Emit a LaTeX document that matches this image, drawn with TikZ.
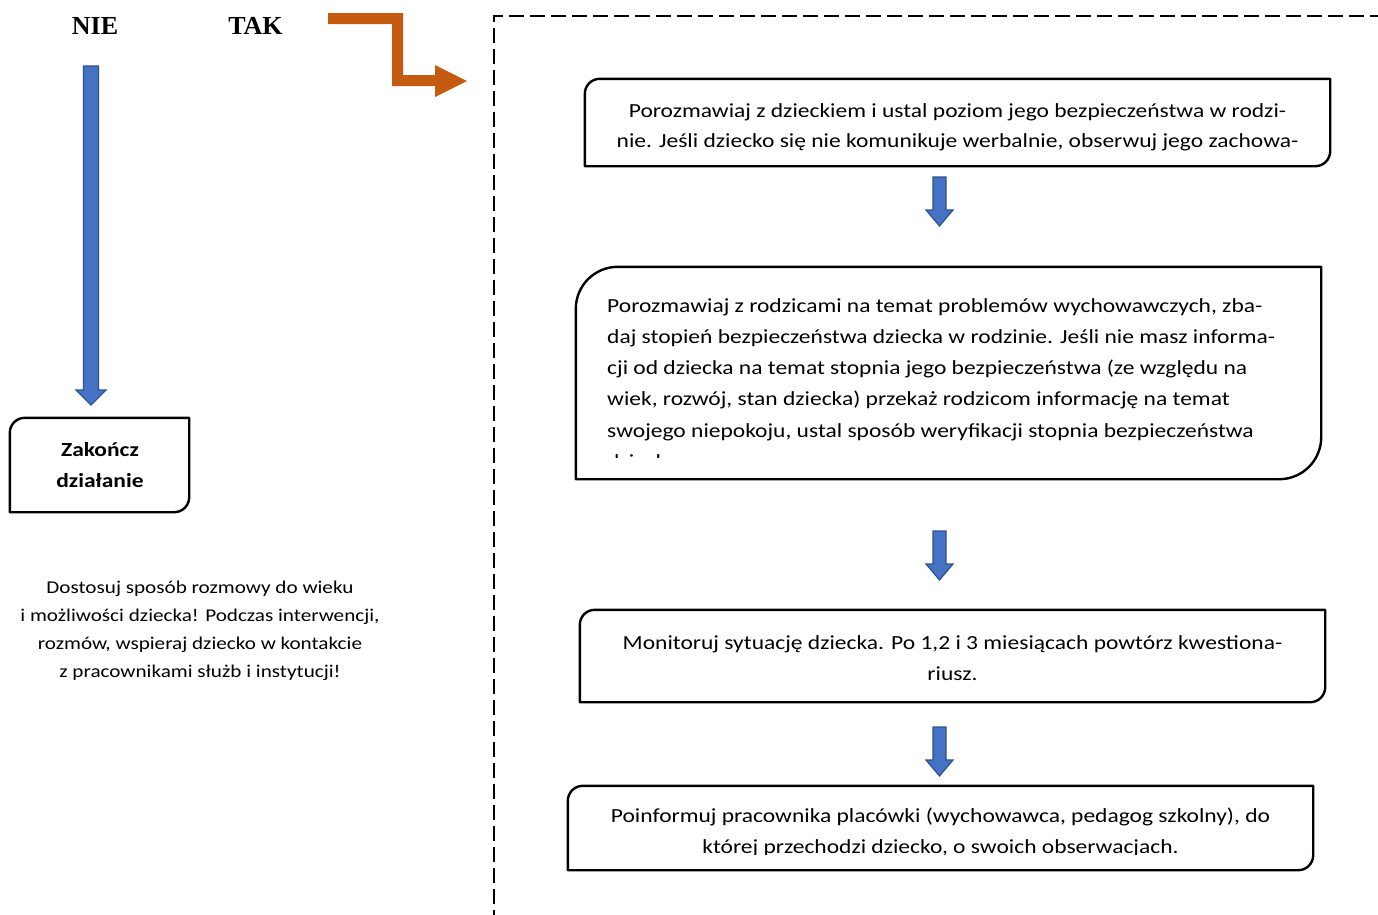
\documentclass[tikz,border=0pt]{standalone}
\usepackage{fontspec}
\setmainfont{Carlito}[FakeStretch=1.175]
\newfontfamily\headserif{Liberation Serif}
\usetikzlibrary{calc}
\definecolor{orangeA}{HTML}{C55A11}
\definecolor{blueA}{HTML}{4472C4}
\definecolor{blueB}{HTML}{2F528F}
\tikzset{
  boxline/.style={draw=black, line width=2.4pt, line join=round},
  frameline/.style={draw=black, line width=1.8pt, dash pattern=on 15pt off 6pt},
  blockarr/.style={fill=blueA, draw=blueB, line width=1.2pt, line join=miter},
  bodytext/.style={inner sep=0pt, font=\fontsize{20}{30}\selectfont},
  notetext/.style={inner sep=0pt, font=\fontsize{18}{28}\selectfont},
  headtext/.style={inner sep=0pt, font=\headserif\bfseries\fontsize{26}{30}\selectfont},
}
% #1 name, #2 cx, #3 cy, #4 width, #5 height, #6 radius
\newcommand{\rbox}[6]{%
  \node[inner sep=0pt, minimum width=#4pt, minimum height=#5pt] (#1) at (#2,#3) {};
  \draw[boxline] (#1.south west) -- ([yshift=-#6pt]#1.north west)
     arc[start angle=180, end angle=90, radius=#6pt] -- (#1.north east)
     -- ([yshift=#6pt]#1.south east)
     arc[start angle=0, end angle=-90, radius=#6pt] -- cycle;}
% #1 start coord, #2 tip coord, #3 half shaft, #4 half head, #5 head length
\newcommand{\blockarrow}[5]{%
  \filldraw[blockarr] let \p1=(#1), \p2=(#2) in
    (\x1-#3pt,\y1) -- (\x1+#3pt,\y1) -- (\x1+#3pt,\y2+#5pt) -- (\x1+#4pt,\y2+#5pt)
    -- (\x2,\y2) -- (\x1-#4pt,\y2+#5pt) -- (\x1-#3pt,\y2+#5pt) -- cycle;}
\begin{document}
\begin{tikzpicture}[x=1pt, y=-1pt]
\useasboundingbox (0,0) rectangle (1378,914);

% headings
\node[headtext, anchor=base] (nie) at (95,34) {NIE};
\node[headtext, anchor=base] (tak) at (255.5,34) {TAK};

% orange bent arrow
\fill[orangeA] (328,13) -- (403,13) -- (403,75) -- (435,75) -- (435,65) -- (467,81)
  -- (435,97) -- (435,86) -- (392,86) -- (392,24) -- (328,24) -- cycle;

% dashed frame
\coordinate (frTR) at (1385,16);
\coordinate (frTL) at (494,16);
\coordinate (frBL) at (494,925);
\draw[frameline] (frTR) -- (frTL) -- (frBL);

% left branch
\coordinate (la1) at (91,66);
\coordinate (la2) at (91,405);
\blockarrow{la1}{la2}{7.5}{15}{15}
\rbox{zak}{99.5}{465}{179}{94}{15}
\node[bodytext, font=\bfseries\fontsize{20}{30}\selectfont, anchor=base] (zak1) at (100,456) {Zakończ};
\node[bodytext, font=\bfseries\fontsize{20}{30}\selectfont, anchor=base] (zak2) at (100,487) {działanie};

\node[notetext, anchor=base] (n1) at (200,593) {Dostosuj sposób rozmowy do wieku};
\node[notetext, anchor=base] (n2) at (200,621) {i możliwości dziecka! Podczas interwencji,};
\node[notetext, anchor=base] (n3) at (200,649) {rozmów, wspieraj dziecko w kontakcie};
\node[notetext, anchor=base] (n4) at (200,677) {z pracownikami służb i instytucji!};

% box 1
\rbox{b1}{957.5}{122.5}{745}{87}{15}
\node[bodytext, anchor=base] (b1l1) at (957.5,117) {Porozmawiaj z dzieckiem i ustal poziom jego bezpieczeństwa w rodzi-};
\node[bodytext, anchor=base] (b1l2) at (957.5,147) {nie. Jeśli dziecko się nie komunikuje werbalnie, obserwuj jego zachowa-};

\coordinate (a1s) at (939.5,177);
\coordinate (a1e) at (939.5,226);
\blockarrow{a1s}{a1e}{6.5}{13.5}{16}

% box 2
\rbox{b2}{948.5}{373}{745}{212}{42}
\node[bodytext, anchor=base west] (b2l1) at (607,312) {Porozmawiaj z rodzicami na temat problemów wychowawczych, zba-};
\node[bodytext, anchor=base west] (b2l2) at (607,343.25) {daj stopień bezpieczeństwa dziecka w rodzinie. Jeśli nie masz informa-};
\node[bodytext, anchor=base west] (b2l3) at (607,374.5) {cji od dziecka na temat stopnia jego bezpieczeństwa (ze względu na};
\node[bodytext, anchor=base west] (b2l4) at (607,405.75) {wiek, rozwój, stan dziecka) przekaż rodzicom informację na temat};
\node[bodytext, anchor=base west] (b2l5) at (607,437) {swojego niepokoju, ustal sposób weryfikacji stopnia bezpieczeństwa};
\begin{scope}
  \clip (590,445) rectangle (1300,457.5);
  \node[bodytext, anchor=base west] (b2l6) at (607,468.25) {dziecka.};
\end{scope}

\coordinate (a2s) at (939.5,531);
\coordinate (a2e) at (939.5,580);
\blockarrow{a2s}{a2e}{6.5}{13.5}{16}

% box 3
\rbox{b3}{952.5}{656}{745}{92}{15}
\node[bodytext, anchor=base] (b3l1) at (952.5,649) {Monitoruj sytuację dziecka. Po 1,2 i 3 miesiącach powtórz kwestiona-};
\node[bodytext, anchor=base] (b3l2) at (952.5,680) {riusz.};

\coordinate (a3s) at (939.5,727);
\coordinate (a3e) at (939.5,776);
\blockarrow{a3s}{a3e}{6.5}{13.5}{16}

% box 4
\rbox{b4}{940.5}{828}{745}{84}{15}
\node[bodytext, anchor=base] (b4l1) at (940.5,822) {Poinformuj pracownika placówki (wychowawca, pedagog szkolny), do};
\begin{scope}
  \clip (580,830) rectangle (1300,854.5);
  \node[bodytext, anchor=base] (b4l2) at (940.5,853) {której przechodzi dziecko, o swoich obserwacjach.};
\end{scope}
\end{tikzpicture}
\end{document}
